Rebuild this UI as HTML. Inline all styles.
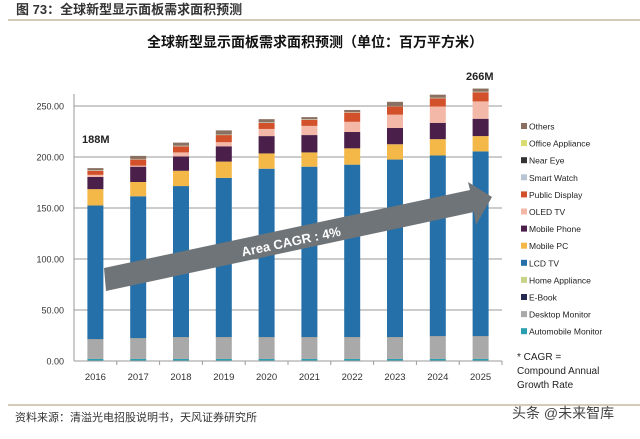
<!DOCTYPE html>
<html><head><meta charset="utf-8">
<style>
body{margin:0;width:640px;height:434px;background:#fff;overflow:hidden;font-family:"Liberation Sans","Noto Sans CJK SC",sans-serif;}
</style></head><body>
<svg id="chart" width="640" height="434" xmlns="http://www.w3.org/2000/svg">
  <text x="16" y="14" font-size="13" font-weight="bold" fill="#333" font-family="Liberation Sans, Noto Sans CJK SC, sans-serif">图 73：全球新型显示面板需求面积预测</text>
  <line x1="8" y1="20" x2="640" y2="20" stroke="#a89a70" stroke-width="1"/>
  <text x="315" y="47" text-anchor="middle" font-size="14" font-weight="bold" fill="#111" font-family="Liberation Sans, Noto Sans CJK SC, sans-serif">全球新型显示面板需求面积预测（单位：百万平方米）</text>
  <g id="grid"></g>
  <g id="bars"></g>
  <g id="axes"></g>
  <g>
    <polygon points="104,268 470,190 468,182 492,197 476,225 474,212 106,291" fill="#6f7478"/>
    <text x="292" y="246" transform="rotate(-12 292 246)" text-anchor="middle" font-size="13" font-weight="bold" fill="#fff">Area CAGR : 4%</text>
  </g>
  <text x="82" y="143" font-size="11" font-weight="bold" fill="#222">188M</text>
  <text x="466" y="80" font-size="11" font-weight="bold" fill="#222">266M</text>
  <g id="legend"></g>
  <text x="517" y="360" font-size="10" fill="#222">* CAGR  =</text>
  <text x="517" y="374" font-size="10" fill="#222">Compound Annual</text>
  <text x="517" y="388" font-size="10" fill="#222">Growth Rate</text>
  <line x1="8" y1="405" x2="640" y2="405" stroke="#a89a70" stroke-width="1"/>
  <text x="15" y="421" font-size="11" fill="#333" font-family="Liberation Sans, Noto Sans CJK SC, sans-serif">资料来源：清溢光电招股说明书，天风证券研究所</text>
  <text x="512" y="418" font-size="14" fill="#444" font-family="Liberation Sans, Noto Sans CJK SC, sans-serif">头条 @未来智库</text>
</svg>
<script>
const years=["2016","2017","2018","2019","2020","2021","2022","2023","2024","2025"];
const yTicks=[0,50,100,150,200,250];
const seriesNames=["Automobile Monitor","Desktop Monitor","E-Book","Home Appliance","LCD TV","Mobile PC","Mobile Phone","OLED TV","Public Display","Smart Watch","Near Eye","Office Appliance","Others"];
const seriesColors=["#2a9fb0","#a9a9a9","#26294f","#c8d48a","#2570a8","#f3b847","#4a1f4a","#f4b8a8","#d2502a","#b8c4d4","#333","#d8dc70","#8a7060"];
const automobile=[2,2,2,2,2,2,2,2,2,2];
const desktop=[19,20,21,21,21,21,21,21,22,22];
const ebook=[0.3,0.3,0.3,0.3,0.3,0.3,0.3,0.3,0.3,0.3];
const homeAppliance=[0.2,0.2,0.2,0.2,0.2,0.2,0.2,0.2,0.2,0.2];
const lcdTv=[131,139,148,156,165,167,169,174,177,181];
const mobilePc=[16,14,15,16,15,14,16,15,16,15];
const mobilePhone=[12,15,14,15,17,17,16,16,16,17];
const oledTv=[2,1,4,4,7,9,10,13,16,17];
const publicDisplay=[4,6,6,7,6,6,9,8,8,9];
const smartWatch=[0.3,0.3,0.3,0.3,0.3,0.3,0.3,0.3,0.3,0.3];
const nearEye=[0.1,0.1,0.1,0.1,0.1,0.1,0.1,0.1,0.1,0.1];
const officeAppliance=[0.2,0.2,0.2,0.2,0.2,0.2,0.2,0.2,0.2,0.2];
const others=[2,3,3,4,3,2,2,4,3,3];
const series=[automobile,desktop,ebook,homeAppliance,lcdTv,mobilePc,mobilePhone,oledTv,publicDisplay,smartWatch,nearEye,officeAppliance,others];

const NS="http://www.w3.org/2000/svg";
const x0=74,x1=502,yBase=361,yTop=106;
const yScale=v=>yBase-(v/250)*(yBase-yTop);
const band=(x1-x0)/years.length;
const xCenter=i=>x0+band*(i+0.5);
const barW=16;
function mk(tag,attrs){const e=document.createElementNS(NS,tag);for(const k in attrs)e.setAttribute(k,attrs[k]);return e;}
const grid=document.getElementById('grid'),axes=document.getElementById('axes'),bars=document.getElementById('bars'),legend=document.getElementById('legend');
yTicks.forEach(t=>{
  const y=yScale(t);
  const l=mk('line',{x1:x0,x2:x1,y1:y,y2:y,stroke:'#9a9a9a','stroke-width':1});
  
  
  grid.appendChild(l);
  const tx=mk('text',{x:x0-10,y:y+3.5,'text-anchor':'end','font-size':9,fill:'#333'});
  tx.textContent=t.toFixed(2);
  
  
  axes.appendChild(tx);
});
const ax=mk('line',{x1:x0,x2:x0,y1:yTop-12,y2:yBase,stroke:'#9a9a9a'});


axes.appendChild(ax);
years.forEach((yr,i)=>{
  const tk=mk('line',{x1:x0+band*(i+1),x2:x0+band*(i+1),y1:yBase,y2:yBase+4,stroke:'#9a9a9a'});
  
  
  axes.appendChild(tk);
  const tx=mk('text',{x:xCenter(i),y:yBase+19,'text-anchor':'middle','font-size':9.5,fill:'#333'});
  tx.textContent=yr;
  
  
  axes.appendChild(tx);
  let cum=0;
  series.forEach((s,k)=>{
    const v=s[i];
    const r=mk('rect',{x:xCenter(i)-barW/2,y:yScale(cum+v),width:barW,height:Math.max(0,yScale(cum)-yScale(cum+v)),fill:seriesColors[k]});
    
    
    bars.appendChild(r);
    cum+=v;
  });
});
const xa=mk('line',{x1:x0,x2:x1,y1:yBase,y2:yBase,stroke:'#9a9a9a'});


axes.appendChild(xa);
for(let k=seriesNames.length-1;k>=0;k--){
  const row=seriesNames.length-1-k;
  const y=128+row*17.1;
  const g=mk('g',{});
  
  
  g.appendChild(mk('rect',{x:521,y:y-5,width:6,height:6,fill:seriesColors[k]}));
  const t=mk('text',{x:529,y:y+1.5,'font-size':8.5,fill:'#222'});
  t.textContent=seriesNames[k];
  g.appendChild(t);
  legend.appendChild(g);
}
</script>
</body></html>
